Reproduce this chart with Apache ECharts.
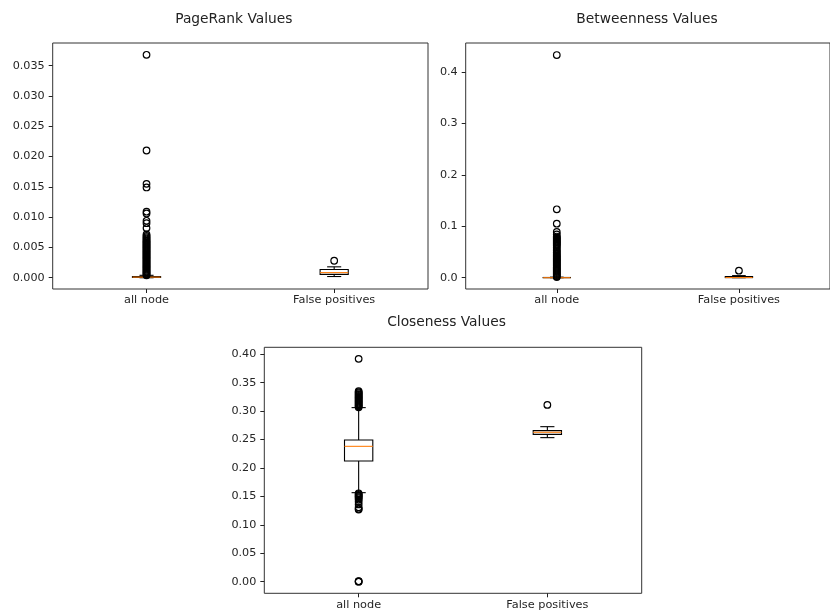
<!DOCTYPE html>
<html>
<head>
<meta charset="utf-8">
<script src="https://cdn.jsdelivr.net/npm/echarts@6/dist/echarts.min.js"></script>
<style>html,body{margin:0;padding:0;background:#fff}#c{width:830px;height:613px}</style>
</head>
<body>
<div id="c"></div>
<script>
// ---------- data ----------
const categories = ['all node', 'False positives'];
// box stats: [lower whisker, Q1, median, Q3, upper whisker]
const pagerankAllBox = [0.0, 0.00005, 0.0001, 0.0002, 0.0004];
const pagerankFPBox = [0.0002, 0.00055, 0.00085, 0.00135, 0.0018];
const pagerankAllFliers = [0.00040, 0.00055, 0.00068, 0.00085, 0.00100, 0.00115, 0.00132, 0.00148, 0.00163,
  0.00180, 0.00195, 0.00212, 0.00228, 0.00244, 0.00260, 0.00275, 0.00292, 0.00308, 0.00325, 0.00340, 0.00356,
  0.00372, 0.00388, 0.00405, 0.00420, 0.00436, 0.00452, 0.00468, 0.00485, 0.00500, 0.00516, 0.00533, 0.00548,
  0.00565, 0.00580, 0.00597, 0.00612, 0.00630, 0.00650, 0.00668, 0.00690, 0.00715, 0.0082, 0.0090, 0.0094,
  0.0106, 0.0109, 0.0149, 0.0155, 0.0210, 0.0368];
const pagerankFPFliers = [0.0028];

const betweenAllBox = [0.0, 0.0, 0.0, 0.0004, 0.001];
const betweenFPBox = [0.0, 0.0002, 0.0003, 0.0022, 0.004];
const betweenAllFliers = [0.0012, 0.003, 0.005, 0.007, 0.009, 0.011, 0.013, 0.015, 0.017, 0.019, 0.021,
  0.023, 0.025, 0.027, 0.029, 0.031, 0.033, 0.035, 0.037, 0.039, 0.041, 0.043, 0.045, 0.048, 0.050, 0.053,
  0.056, 0.059, 0.062, 0.064, 0.066, 0.068, 0.070, 0.072, 0.074, 0.076, 0.078, 0.080, 0.084, 0.089,
  0.105, 0.133, 0.433];
const betweenFPFliers = [0.0136];

const closeAllBox = [0.1566, 0.2123, 0.2381, 0.2493, 0.3062];
const closeFPBox = [0.2534, 0.2592, 0.2628, 0.2657, 0.2727];
const closeAllFliers = [0.3068, 0.3085, 0.3100, 0.3118, 0.3135, 0.3150, 0.3168, 0.3185, 0.3200, 0.3218,
  0.3235, 0.3250, 0.3268, 0.3285, 0.3300, 0.3318, 0.3335, 0.3352, 0.392,
  0.1555, 0.1540, 0.1522, 0.1505, 0.1488, 0.1470, 0.1445, 0.1408, 0.1360, 0.1308, 0.1282, 0.1270,
  0.0, 0.0004, 0.0008];
const closeFPFliers = [0.311];

const pagerankTicks = [0, 0.005, 0.010, 0.015, 0.020, 0.025, 0.030, 0.035];
const betweenTicks = [0, 0.1, 0.2, 0.3, 0.4];
const closeTicks = [0, 0.05, 0.10, 0.15, 0.20, 0.25, 0.30, 0.35, 0.40];

const titles = ['PageRank Values', 'Betweenness Values', 'Closeness Values'];

// ---------- chart ----------
const FONT = 'DejaVu Sans';
const TXT = '#262626';

function renderBox(params, api) {
  const x = api.value(0);
  const lo = api.coord([x, api.value(1)]);
  const q1 = api.coord([x, api.value(2)]);
  const md = api.coord([x, api.value(3)]);
  const q3 = api.coord([x, api.value(4)]);
  const hi = api.coord([x, api.value(5)]);
  const band = api.size([1, 0])[0];
  const hw = band * 0.15 / 2;
  const cw = hw / 2;
  const cx = lo[0];
  const st = { stroke: '#000', lineWidth: 1.1, fill: null };
  return {
    type: 'group',
    children: [
      { type: 'line', shape: { x1: cx, y1: q1[1], x2: cx, y2: lo[1] }, style: st },
      { type: 'line', shape: { x1: cx, y1: q3[1], x2: cx, y2: hi[1] }, style: st },
      { type: 'line', shape: { x1: cx - cw, y1: lo[1], x2: cx + cw, y2: lo[1] }, style: st },
      { type: 'line', shape: { x1: cx - cw, y1: hi[1], x2: cx + cw, y2: hi[1] }, style: st },
      { type: 'rect', shape: { x: cx - hw, y: q3[1], width: 2 * hw, height: Math.max(q1[1] - q3[1], 0.01) }, style: st },
      { type: 'line', shape: { x1: cx - hw, y1: md[1], x2: cx + hw, y2: md[1] }, style: { stroke: '#ff7f0e', lineWidth: 1.1 } }
    ]
  };
}

const grids = [
  { left: 52.7, top: 43, width: 375.3, height: 246 },
  { left: 465.7, top: 43, width: 375.7, height: 246 },
  { left: 264.3, top: 347.3, width: 377.4, height: 246 }
];
const yRanges = [[-0.00186, 0.03875], [-0.022, 0.4564], [-0.0204, 0.4123]];
const yTicks = [pagerankTicks, betweenTicks, closeTicks];
const yDec = [3, 1, 2];
const boxes = [[pagerankAllBox, pagerankFPBox], [betweenAllBox, betweenFPBox], [closeAllBox, closeFPBox]];
const fliers = [[pagerankAllFliers, pagerankFPFliers], [betweenAllFliers, betweenFPFliers], [closeAllFliers, closeFPFliers]];
const titleY = [19, 19, 322];

const option = {
  backgroundColor: '#fff',
  animation: false,
  grid: grids.map(g => Object.assign({ show: true, borderColor: '#333', borderWidth: 1, backgroundColor: '#fff', containLabel: false }, g)),
  xAxis: grids.map((g, i) => ({
    type: 'category', gridIndex: i, data: categories, boundaryGap: true, position: 'bottom',
    axisLine: { show: false, onZero: false },
    axisTick: { show: true, alignWithLabel: true, length: 4, lineStyle: { color: '#222', width: 1 } },
    axisLabel: { fontFamily: FONT, fontSize: 11.3, color: TXT, margin: 6 },
    splitLine: { show: false }
  })),
  yAxis: grids.map((g, i) => ({
    type: 'value', gridIndex: i, min: yRanges[i][0], max: yRanges[i][1], position: 'left',
    axisLine: { show: false, onZero: false },
    axisTick: { show: true, length: 4, customValues: yTicks[i], lineStyle: { color: '#222', width: 1 } },
    axisLabel: { fontFamily: FONT, fontSize: 11.2, color: TXT, margin: 8, customValues: yTicks[i],
      formatter: v => Number(v).toFixed(yDec[i]) },
    splitLine: { show: false }
  })),
  graphic: titles.map((t, i) => ({
    type: 'text',
    x: grids[i].left + grids[i].width / 2 - 6.5,
    y: titleY[i],
    style: { text: t, font: '13.8px "DejaVu Sans"', fill: '#222', textAlign: 'center', textVerticalAlign: 'middle' }
  })),
  series: []
};

for (let i = 0; i < 3; i++) {
  option.series.push({
    type: 'custom', xAxisIndex: i, yAxisIndex: i,
    renderItem: renderBox,
    encode: { x: 0, y: [1, 2, 3, 4, 5] },
    data: boxes[i].map((b, k) => [k].concat(b)),
    z: 2
  });
  const pts = [];
  fliers[i].forEach((arr, k) => arr.forEach(v => pts.push([k, v])));
  option.series.push({
    type: 'scatter', xAxisIndex: i, yAxisIndex: i,
    symbol: 'circle', symbolSize: 6.6,
    itemStyle: { color: 'rgba(0,0,0,0)', borderColor: '#000', borderWidth: 1.2, opacity: 1 },
    emphasis: { disabled: true },
    data: pts,
    z: 3
  });
}

const chart = echarts.init(document.getElementById('c'), null, { renderer: 'canvas' });
chart.setOption(option);
</script>
</body>
</html>
